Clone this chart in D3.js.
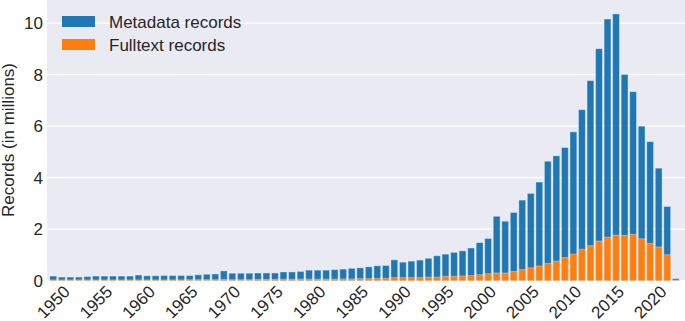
<!DOCTYPE html>
<html>
<head>
<meta charset="utf-8">
<script src="https://cdn.jsdelivr.net/npm/d3@7"></script>
<style>
  body { margin: 0; background: #fff; }
  text { font-family: "Liberation Sans", Arial, sans-serif; fill: #262626; }
</style>
</head>
<body>
<div id="chart_container"></div>
<script>
// years 1950..2023
var years = d3.range(1950, 2024);

// total metadata records per year (millions)
var metadata = [
    0.18, 0.14, 0.14, 0.14, 0.16, 0.18, 0.18, 0.18, 0.18, 0.18,
    0.22, 0.19, 0.19, 0.20, 0.20, 0.20, 0.20, 0.23, 0.25, 0.26,
    0.38, 0.29, 0.29, 0.29, 0.30, 0.30, 0.30, 0.34, 0.34, 0.36,
    0.41, 0.41, 0.41, 0.43, 0.45, 0.48, 0.50, 0.54, 0.58, 0.59,
    0.81, 0.72, 0.76, 0.80, 0.87, 0.97, 1.03, 1.10, 1.16, 1.27,
    1.48, 1.64, 2.50, 2.31, 2.65, 3.13, 3.39, 3.83, 4.64, 4.85,
    5.17, 5.78, 6.64, 7.77, 9.01, 10.16, 10.36, 8.01, 7.34, 6.00,
    5.40, 4.37, 2.88, 0.08
];

// fulltext records per year (millions)
var fulltext = [
    0.03, 0.03, 0.03, 0.03, 0.03, 0.03, 0.03, 0.03, 0.03, 0.03,
    0.03, 0.03, 0.03, 0.03, 0.03, 0.03, 0.04, 0.04, 0.04, 0.04,
    0.05, 0.04, 0.04, 0.04, 0.05, 0.05, 0.05, 0.05, 0.05, 0.06,
    0.06, 0.06, 0.06, 0.06, 0.07, 0.07, 0.08, 0.08, 0.09, 0.09,
    0.12, 0.12, 0.12, 0.12, 0.14, 0.14, 0.17, 0.17, 0.18, 0.20,
    0.23, 0.27, 0.30, 0.30, 0.36, 0.43, 0.50, 0.57, 0.67, 0.76,
    0.90, 1.03, 1.22, 1.36, 1.54, 1.69, 1.77, 1.76, 1.80, 1.63,
    1.45, 1.31, 1.01, 0.02
];

var yTicks = [0, 2, 4, 6, 8, 10];
var xTickYears = d3.range(1950, 2021, 5);

var seriesNames = ["Metadata records", "Fulltext records"];
var seriesColors = ["#1f77b4", "#ff7f0e"];

var width = 685, height = 321;
var plot = { left: 47, right: 685, top: 0, bottom: 281 };

var svg = d3.select("#chart_container").append("svg")
    .attr("width", width)
    .attr("height", height);

var x = d3.scaleBand()
    .domain(years)
    .range([49, 680])
    .paddingInner(0.2)
    .paddingOuter(0.1);

var y = d3.scaleLinear()
    .domain([0, 10.9])
    .range([280.7, 0]);

// background
svg.append("rect")
    .attr("x", plot.left)
    .attr("y", plot.top)
    .attr("width", plot.right - plot.left)
    .attr("height", plot.bottom - plot.top)
    .attr("fill", "#eaeaf2");

// grid
svg.append("g").selectAll("line")
    .data(yTicks)
    .enter().append("line")
    .attr("x1", plot.left)
    .attr("x2", plot.right)
    .attr("y1", function(d) { return y(d); })
    .attr("y2", function(d) { return y(d); })
    .attr("stroke", "#fff")
    .attr("stroke-width", 1.3);

var bars = svg.append("g");

function drawBars(values, color) {
    bars.append("g").selectAll("rect")
        .data(values)
        .enter().append("rect")
        .attr("x", function(d, i) { return x(years[i]); })
        .attr("width", x.bandwidth())
        .attr("y", function(d) { return y(d); })
        .attr("height", function(d) { return y(0) - y(d); })
        .attr("fill", color)
        .attr("stroke", "rgba(255,255,255,0.35)")
        .attr("stroke-width", 1);
}
drawBars(metadata, seriesColors[0]);
drawBars(fulltext, seriesColors[1]);

// y tick labels
svg.append("g").selectAll("text")
    .data(yTicks)
    .enter().append("text")
    .attr("x", 43)
    .attr("y", function(d) { return y(d); })
    .attr("dy", "0.35em")
    .attr("text-anchor", "end")
    .style("font-size", "17px")
    .text(function(d) { return d; });

// x tick labels, rotated
svg.append("g").selectAll("text")
    .data(xTickYears)
    .enter().append("text")
    .attr("transform", function(d) {
        var cx = x(d) + x.bandwidth() / 2;
        return "translate(" + cx + ",302) rotate(-45)";
    })
    .attr("text-anchor", "middle")
    .attr("dy", "0.35em")
    .style("font-size", "17px")
    .text(function(d) { return d; });

// y axis title
svg.append("text")
    .attr("transform", "translate(14,140) rotate(-90)")
    .attr("text-anchor", "middle")
    .style("font-size", "17px")
    .text("Records (in millions)");

// legend
var legend = svg.append("g").selectAll("g")
    .data(seriesNames)
    .enter().append("g")
    .attr("transform", function(d, i) { return "translate(62," + (16 + i * 23) + ")"; });
legend.append("rect")
    .attr("width", 33)
    .attr("height", 11)
    .attr("fill", function(d, i) { return seriesColors[i]; });
legend.append("text")
    .attr("x", 47)
    .attr("y", 6)
    .attr("dy", "0.35em")
    .style("font-size", "17px")
    .text(function(d) { return d; });
</script>
</body>
</html>
